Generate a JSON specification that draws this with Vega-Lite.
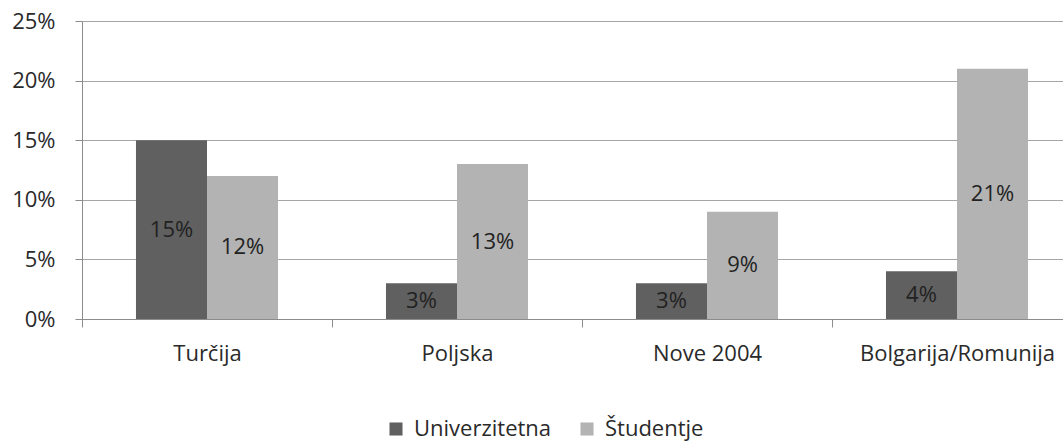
{
  "$schema": "https://vega.github.io/schema/vega-lite/v6.json",
  "width": 1000,
  "height": 298,
  "autosize": {"type": "none"},
  "padding": {"left": 82, "top": 21, "right": 0, "bottom": 122},
  "background": "white",
  "config": {"font": "Open Sans", "view": {"stroke": null}},
  "data": {
    "values": [
      {"kat": "Turčija", "serija": "Univerzitetna", "v": 0.15},
      {"kat": "Turčija", "serija": "Študentje", "v": 0.12},
      {"kat": "Poljska", "serija": "Univerzitetna", "v": 0.03},
      {"kat": "Poljska", "serija": "Študentje", "v": 0.13},
      {"kat": "Nove 2004", "serija": "Univerzitetna", "v": 0.03},
      {"kat": "Nove 2004", "serija": "Študentje", "v": 0.09},
      {"kat": "Bolgarija/Romunija", "serija": "Univerzitetna", "v": 0.04},
      {"kat": "Bolgarija/Romunija", "serija": "Študentje", "v": 0.21}
    ]
  },
  "encoding": {
    "x": {
      "field": "kat",
      "type": "nominal",
      "sort": ["Turčija", "Poljska", "Nove 2004", "Bolgarija/Romunija"],
      "scale": {"paddingInner": 0, "paddingOuter": 0},
      "axis": {
        "title": null,
        "labelAngle": 0,
        "labelLimit": 0,
        "tickBand": "extent",
        "tickSize": 8,
        "tickColor": "#8c8c8c",
        "domainColor": "#8c8c8c",
        "labelFontSize": 22,
        "labelColor": "#2a2a2a",
        "labelPadding": 16,
        "grid": false
      }
    },
    "xOffset": {
      "field": "serija",
      "type": "nominal",
      "sort": ["Univerzitetna", "Študentje"],
      "scale": {"paddingInner": 0, "paddingOuter": 0.76}
    }
  },
  "layer": [
    {
      "mark": {"type": "bar"},
      "encoding": {
        "y": {
          "field": "v",
          "type": "quantitative",
          "scale": {"domain": [0, 0.25], "nice": false},
          "axis": {
            "title": null,
            "format": ".0%",
            "values": [0, 0.05, 0.1, 0.15, 0.2, 0.25],
            "grid": true,
            "gridColor": "#a6a6a6",
            "domainColor": "#8c8c8c",
            "tickColor": "#8c8c8c",
            "tickSize": 7,
            "labelFontSize": 22,
            "labelPadding": 20,
            "labelColor": "#2a2a2a"
          }
        },
        "color": {
          "field": "serija",
          "type": "nominal",
          "sort": ["Univerzitetna", "Študentje"],
          "scale": {"domain": ["Univerzitetna", "Študentje"], "range": ["#606060", "#b3b3b3"]},
          "legend": {
            "title": null,
            "orient": "none",
            "legendX": 303,
            "legendY": 397,
            "direction": "horizontal",
            "symbolType": "square",
            "symbolSize": 170,
            "symbolStrokeWidth": 0,
            "labelFontSize": 22,
            "labelLimit": 0,
            "labelColor": "#2a2a2a",
            "labelOffset": 7,
            "columnPadding": 24
          }
        }
      }
    },
    {
      "mark": {"type": "text", "fontSize": 22, "color": "#222222"},
      "encoding": {
        "y": {
          "field": "v",
          "type": "quantitative",
          "scale": {"domain": [0, 0.5], "nice": false},
          "axis": null
        },
        "text": {"field": "v", "type": "quantitative", "format": ".0%"}
      }
    }
  ],
  "resolve": {"scale": {"y": "independent"}}
}
